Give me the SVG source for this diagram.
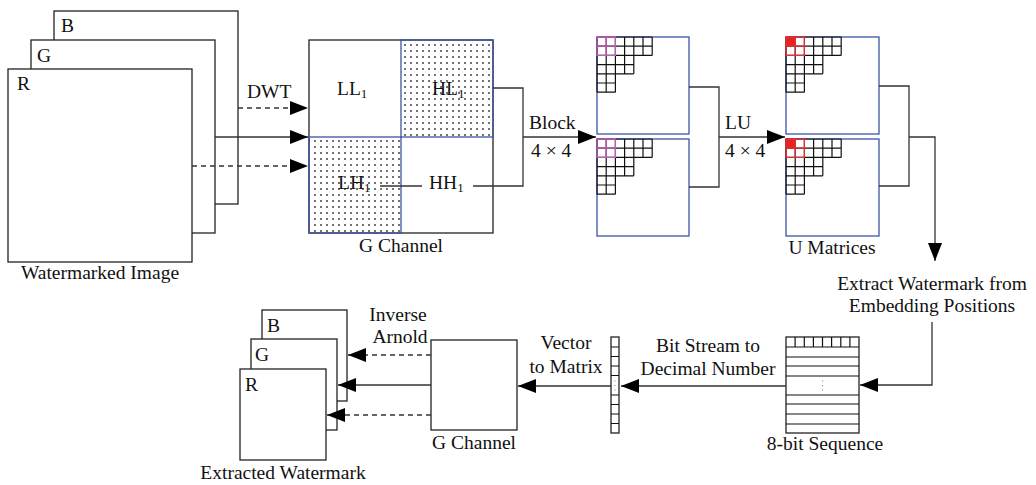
<svg xmlns="http://www.w3.org/2000/svg" width="1036" height="485" viewBox="0 0 1036 485" font-family="Liberation Serif, Times New Roman, serif">
  <style>
    .t { font-size: 19.5px; fill: #111; }
    .m { text-anchor: middle; }
    .box { fill: #fff; stroke: #222; stroke-width: 1.3; }
    .blue { fill: none; stroke: #3a55a8; stroke-width: 1.3; }
    .line { fill: none; stroke: #333; stroke-width: 1.3; }
    .dash { stroke-dasharray: 5 4; }
    .grid { fill: none; stroke: #111; stroke-width: 1.2; }
  </style>
  <defs>
    <marker id="arrow" markerUnits="userSpaceOnUse" markerWidth="18" markerHeight="14" refX="18" refY="7" orient="auto">
      <path d="M0,0 L18,7 L0,14 Z" fill="#000"/>
    </marker>
    <pattern id="dots" patternUnits="userSpaceOnUse" width="6" height="6">
      <circle cx="3" cy="3" r="1" fill="#444"/>
    </pattern>
    <!-- staircase of 4x4 blocks in the upper-left corner of a matrix -->
    <path id="stair" class="grid" d="M0,0H55.2 M0,9.2H55.2 M0,18.4H55.2 M0,27.6H36.8 M0,36.8H36.8 M0,46H18.4 M0,55.2H18.4 M0,0V55.2 M9.2,0V55.2 M18.4,0V55.2 M27.6,0V36.8 M36.8,0V36.8 M46,0V18.4 M55.2,0V18.4"/>
    <g id="pinkCorner">
      <path d="M0,0H18.4V18.4H0Z M9.2,0V18.4 M0,9.2H18.4" fill="none" stroke="#c45cb4" stroke-width="1.3"/>
    </g>
    <g id="redCorner">
      <rect x="0" y="0" width="9.2" height="9.2" fill="#e82222"/>
      <path d="M0,0H18.4V18.4H0Z M9.2,0V18.4 M0,9.2H18.4" fill="none" stroke="#e83030" stroke-width="1.3"/>
    </g>
  </defs>

  <!-- watermarked image: R, G, B planes -->
  <g id="watermarked-image">
    <rect class="box" x="54" y="11" width="184" height="193"/>
    <text class="t" x="61" y="32">B</text>
    <rect class="box" x="31" y="40" width="184" height="193"/>
    <text class="t" x="37" y="62">G</text>
    <rect class="box" x="8" y="69" width="184" height="193"/>
    <text class="t" x="17" y="90">R</text>
    <text class="t m" x="100" y="279">Watermarked Image</text>
  </g>

  <!-- one-level DWT of the G channel -->
  <g id="g-channel-dwt">
    <rect class="box" x="309" y="40" width="184" height="193"/>
    <rect x="401" y="40" width="92" height="97" fill="url(#dots)"/>
    <rect x="309" y="137" width="92" height="96" fill="url(#dots)"/>
    <rect class="blue" x="401" y="40" width="92" height="97"/>
    <rect class="blue" x="309" y="137" width="92" height="96"/>
    <text class="t" x="337" y="95">LL<tspan font-size="13" dy="3">1</tspan></text>
    <text class="t" x="432" y="95">HL<tspan font-size="13" dy="3">1</tspan></text>
    <text class="t" x="338" y="189">LH<tspan font-size="13" dy="3">1</tspan></text>
    <text class="t" x="429" y="189">HH<tspan font-size="13" dy="3">1</tspan></text>
    <text class="t m" x="401" y="252">G Channel</text>
  </g>

  <!-- 4x4 blocks of HL1 and LH1 -->
  <g id="blocks">
    <rect class="blue" fill="#fff" x="597" y="37" width="92" height="97"/>
    <use href="#stair" x="597" y="37"/>
    <use href="#pinkCorner" x="597" y="37"/>
    <rect class="blue" fill="#fff" x="597" y="139" width="92" height="97"/>
    <use href="#stair" x="597" y="139"/>
    <use href="#pinkCorner" x="597" y="139"/>
  </g>

  <!-- U matrices after LU decomposition -->
  <g id="u-matrices">
    <rect class="blue" fill="#fff" x="786" y="37" width="93" height="97"/>
    <use href="#stair" x="786" y="37"/>
    <use href="#redCorner" x="786" y="37"/>
    <rect class="blue" fill="#fff" x="786" y="139" width="93" height="97"/>
    <use href="#stair" x="786" y="139"/>
    <use href="#redCorner" x="786" y="139"/>
    <text class="t m" x="832" y="254">U Matrices</text>
  </g>

  <g id="extract-step">
    <text class="t m" x="932" y="290">Extract Watermark from</text>
    <text class="t m" x="932" y="312">Embedding Positions</text>
  </g>

  <!-- 8-bit sequence table -->
  <g id="bit-sequence">
    <rect class="box" x="786" y="337" width="73" height="96"/>
    <path class="grid" d="M786,347H859 M786,357H859 M786,366H859 M786,376H859 M786,395H859 M786,404H859 M786,414H859 M786,424H859 M795.1,337V347 M804.3,337V347 M813.4,337V347 M822.5,337V347 M831.6,337V347 M840.8,337V347 M849.9,337V347"/>
    <circle cx="822.5" cy="381" r="0.6" fill="#777"/>
    <circle cx="822.5" cy="385.5" r="0.6" fill="#777"/>
    <circle cx="822.5" cy="390" r="0.6" fill="#777"/>
    <text class="t m" x="825" y="450">8-bit Sequence</text>
  </g>

  <!-- decimal vector -->
  <g id="vector">
    <rect class="box" x="611" y="337" width="8" height="96"/>
    <path class="grid" d="M611,347H619 M611,356.5H619 M611,366H619 M611,375.5H619 M611,395H619 M611,404.5H619 M611,414H619 M611,423.5H619"/>
    <circle cx="615" cy="381" r="0.6" fill="#777"/>
    <circle cx="615" cy="385.5" r="0.6" fill="#777"/>
    <circle cx="615" cy="390" r="0.6" fill="#777"/>
  </g>

  <!-- recovered G channel -->
  <g id="g-channel-out">
    <rect class="box" x="431" y="340" width="86" height="90"/>
    <text class="t m" x="474" y="449">G Channel</text>
  </g>

  <!-- extracted watermark planes -->
  <g id="extracted-watermark">
    <rect class="box" x="262" y="310" width="85" height="91"/>
    <text class="t" x="267" y="332">B</text>
    <rect class="box" x="251" y="339" width="86" height="91"/>
    <text class="t" x="255" y="361">G</text>
    <rect class="box" x="240" y="369" width="86" height="91"/>
    <text class="t" x="245" y="391">R</text>
    <text class="t m" x="283" y="479">Extracted Watermark</text>
  </g>

  <!-- connectors -->
  <g id="connectors">
    <path class="line dash" d="M238,108H308" marker-end="url(#arrow)"/>
    <path class="line" d="M215,137H308" marker-end="url(#arrow)"/>
    <path class="line dash" d="M192,166H308" marker-end="url(#arrow)"/>
    <text class="t" x="247" y="98">DWT</text>

    <path class="line" d="M493,88H523V186H473"/>
    <path class="line" d="M380,186H422"/>
    <path class="line" d="M523,137H596" marker-end="url(#arrow)"/>
    <text class="t" x="529" y="129">Block</text>
    <text class="t" x="531" y="157">4 × 4</text>

    <path class="line" d="M689,87H719V187H689"/>
    <path class="line" d="M719,137H785" marker-end="url(#arrow)"/>
    <text class="t" x="725" y="129">LU</text>
    <text class="t" x="725" y="157">4 × 4</text>

    <path class="line" d="M879,86H909V186H879"/>
    <path class="line" d="M909,137H935V261" marker-end="url(#arrow)"/>

    <path class="line" d="M932,322V385H860" marker-end="url(#arrow)"/>

    <path class="line" d="M786,386H621" marker-end="url(#arrow)"/>
    <text class="t m" x="708" y="352">Bit Stream to</text>
    <text class="t m" x="708" y="375">Decimal Number</text>

    <path class="line" d="M611,386H518" marker-end="url(#arrow)"/>
    <text class="t m" x="566" y="349">Vector</text>
    <text class="t m" x="566" y="373">to Matrix</text>

    <path class="line dash" d="M431,355H348" marker-end="url(#arrow)"/>
    <path class="line" d="M431,385H338" marker-end="url(#arrow)"/>
    <path class="line dash" d="M431,415H327" marker-end="url(#arrow)"/>
    <text class="t m" x="398" y="321">Inverse</text>
    <text class="t m" x="400" y="343">Arnold</text>
  </g>
</svg>
